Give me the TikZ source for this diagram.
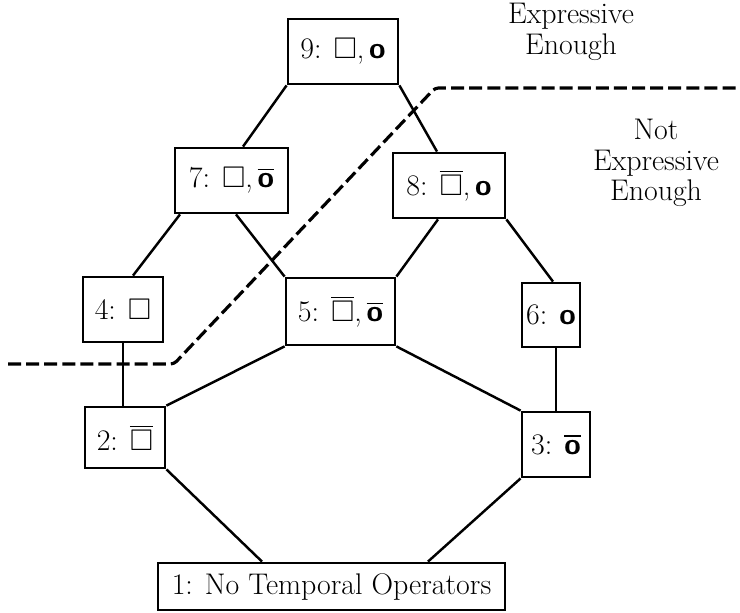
\documentclass[tikz,border=0pt]{standalone}
\usepackage{amssymb}
\newcommand{\alw}{\ensuremath{\Box}}
\newcommand{\nxt}{\textsf{\bfseries o}}
\newcommand{\wk}[1]{\ensuremath{\overline{\mbox{#1}}}}
\tikzset{
  box/.style={draw, line width=1.6pt, inner sep=0pt, minimum height=1.3cm},
  link/.style={line width=1.4pt},
  divider/.style={line width=1.8pt, dash pattern=on 7.4pt off 2.9pt, rounded corners=2pt},
  note/.style={align=center}
}
\begin{document}
\begin{tikzpicture}[x=0.02cm, y=-0.02cm, font=\fontsize{17}{17.5}\selectfont]
    \useasboundingbox (0,0) rectangle (740,612);

    % Operatormengen
    \node[box, minimum width=2.2cm]  (n9) at (343,51.5)  {9: \alw,\,\nxt};
    \node[box, minimum width=2.26cm] (n7) at (231.5,180.5) {7: \alw,\,\wk{\nxt}};
    \node[box, minimum width=2.24cm] (n8) at (449,185.5) {8: \wk{\alw},\,\nxt};
    \node[box, minimum width=1.6cm]  (n4) at (123,309.5) {4: \alw};
    \node[box, minimum width=2.18cm, minimum height=1.34cm] (n5) at (340.5,311.5) {5: \wk{\alw},\,\wk{\nxt}};
    \node[box, minimum width=1.16cm, minimum height=1.28cm] (n6) at (551,315) {6: \nxt};
    \node[box, minimum width=1.6cm, minimum height=1.22cm]  (n2) at (125,437.5) {2: \wk{\alw}};
    \node[box, minimum width=1.36cm] (n3) at (556,444.5) {3: \wk{\nxt}};
    \node[box, minimum width=6.94cm, minimum height=0.94cm] (n1) at (331.5,586.5) {1: No Temporal Operators};

    % Verbindungen
    \draw[link] (n9.south west) -- ([xshift=0.23cm]n7.north);
    \draw[link] (n9.south east) -- ([xshift=-0.24cm]n8.north);
    \draw[link] ([xshift=-1.03cm]n7.south) -- ([xshift=0.2cm]n4.north);
    \draw[link] ([xshift=0.09cm]n7.south) -- (n5.north west);
    \draw[link] ([xshift=-0.22cm]n8.south) -- (n5.north east);
    \draw[link] (n8.south east) -- ([xshift=0.04cm]n6.north);
    \draw[link] (n4.south) -- (n4.south |- n2.north);
    \draw[link] (n5.south west) -- (n2.north east);
    \draw[link] (n5.south east) -- (n3.north west);
    \draw[link] (n3.north |- n6.south) -- (n3.north);
    \draw[link] (n2.south east) -- ([xshift=-1.39cm]n1.north);
    \draw[link] (n3.south west) -- ([xshift=1.93cm]n1.north);

    % Grenze
    \coordinate (cutL) at (8,364);
    \coordinate (cutA) at (174,364);
    \coordinate (cutB) at (435,88);
    \coordinate (cutR) at (740,88);
    \draw[divider] (cutL) -- (cutA) -- (cutB) -- (cutR);

    \node[note] (good) at (571,32) {Expressive\\Enough};
    \node[note] (bad) at (656,163) {Not\\Expressive\\Enough};
\end{tikzpicture}
\end{document}
